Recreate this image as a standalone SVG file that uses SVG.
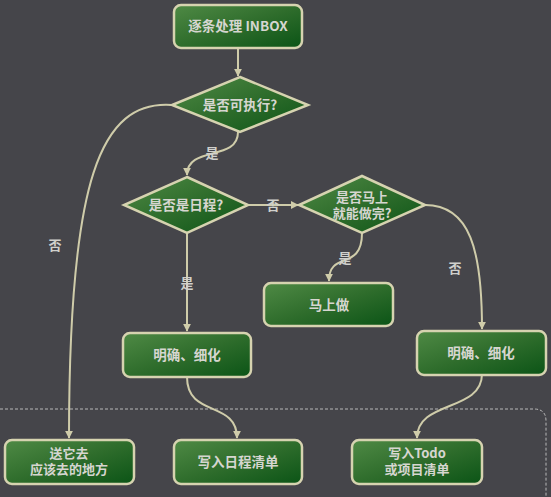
<svg xmlns="http://www.w3.org/2000/svg" width="551" height="497" viewBox="0 0 551 497">
<defs>
<linearGradient id="g" x1="0" y1="0" x2="1" y2="1">
<stop offset="0" stop-color="#4f8a45"/>
<stop offset="0.5" stop-color="#2f6d2c"/>
<stop offset="1" stop-color="#0b5416"/>
</linearGradient>
<marker id="arr" viewBox="0 0 10 10" refX="9" refY="5" markerWidth="8" markerHeight="8" markerUnits="userSpaceOnUse" orient="auto">
<path d="M0,0 L10,5 L0,10 z" fill="#cfccaa"/>
</marker>
<style>
.n{fill:url(#g);stroke:#d6d3b0;stroke-width:2.5}
.t{font-family:"Noto Sans CJK SC","Liberation Sans",sans-serif;font-weight:bold;font-size:13.5px;fill:#d6d6d0;text-anchor:middle}
.t2{font-family:"Noto Sans CJK SC","Liberation Sans",sans-serif;font-weight:bold;font-size:13px;fill:#d6d6d0;text-anchor:middle}
.l{font-family:"Noto Sans CJK SC","Liberation Sans",sans-serif;font-weight:bold;font-size:13px;fill:#d0d0cc;text-anchor:middle}
.c{fill:none;stroke:#cfccaa;stroke-width:2;marker-end:url(#arr)}
</style>
</defs>
<rect width="551" height="497" fill="#45454a"/>
<path d="M0,409 H534 Q546,409 546,421 V497" fill="none" stroke="#b8b8b8" stroke-width="1" stroke-dasharray="3 2"/>
<g id="connectors">
<path class="c" d="M238,48 V76"/>
<path class="c" d="M238,132 C238,162 187,145 187,175"/>
<path class="c" d="M172,105 C100,100 69,180 69,438"/>
<path class="c" d="M248,205 H298"/>
<path class="c" d="M187,233 V331"/>
<path class="c" d="M362,233 C362,272 329,250 329,281"/>
<path class="c" d="M425,205 C470,205 482,250 482,329"/>
<path class="c" d="M187,377 C187,418 237,400 237,438"/>
<path class="c" d="M482,374 C482,412 417,400 417,438"/>
<text class="l" x="55" y="250">否</text>
<text class="l" x="212" y="158">是</text>
<text class="l" x="273" y="210">否</text>
<text class="l" x="187" y="288">是</text>
<text class="l" x="345" y="263">是</text>
<text class="l" x="455" y="273">否</text>
</g>
<g id="inbox"><rect class="n" x="174" y="5" width="128" height="43" rx="7"/><text class="t" x="238" y="31">逐条处理 INBOX</text></g>
<g id="d1"><path class="n" d="M240,77 L308,105 L240,132 L172,105 Z"/><text class="t" x="240" y="110">是否可执行?</text></g>
<g id="d2"><path class="n" d="M187,177 L248,205 L187,233 L124,205 Z"/><text class="t" x="186" y="210">是否是日程?</text></g>
<g id="d3"><path class="n" d="M362,176 L425,205 L362,233 L299,205 Z"/><text class="t2" x="362" y="202">是否马上<tspan x="362" dy="16">就能做完?</tspan></text></g>
<g id="now"><rect class="n" x="264" y="283" width="129" height="43" rx="7"/><text class="t" x="329" y="310">马上做</text></g>
<g id="clarify1"><rect class="n" x="123" y="333" width="128" height="44" rx="7"/><text class="t" x="187" y="360">明确、细化</text></g>
<g id="clarify2"><rect class="n" x="417" y="331" width="129" height="44" rx="7"/><text class="t" x="481" y="358">明确、细化</text></g>
<g id="send"><rect class="n" x="5" y="440" width="129" height="44" rx="7"/><text class="t2" x="69" y="458">送它去<tspan x="69" dy="16">应该去的地方</tspan></text></g>
<g id="calendar"><rect class="n" x="174" y="440" width="128" height="44" rx="7"/><text class="t" x="238" y="467">写入日程清单</text></g>
<g id="todo"><rect class="n" x="352" y="440" width="130" height="44" rx="7"/><text class="t2" x="417" y="458">写入Todo<tspan x="417" dy="16">或项目清单</tspan></text></g>
</svg>
